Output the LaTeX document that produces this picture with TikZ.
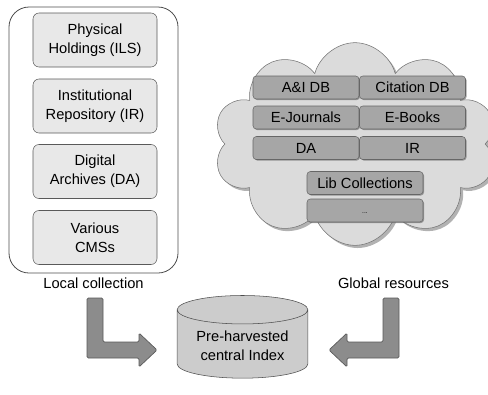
\documentclass[tikz,border=0pt]{standalone}
\usepackage{fontspec}
\setmainfont{Liberation Sans}
\usetikzlibrary{positioning,shapes.geometric,shapes.symbols,shadows}

\begin{document}
\begin{tikzpicture}
	[   x=0.75pt,y=-0.75pt,
	    lbox/.style={draw=black!65,fill=black!9,rounded corners=4.5pt,minimum width=93pt,minimum height=40.5pt,align=center},
	    gbox/.style={draw=black!60,fill=black!35,rounded corners=2.5pt,minimum width=#1,minimum height=17.25pt,inner sep=1pt,
	        drop shadow={shadow xshift=0.8pt,shadow yshift=-0.8pt,fill=black!60,opacity=0.6}},
	    blockarrow/.style={draw=black!65,fill=black!45,rounded corners=1pt,line width=0.5pt},
	    font=\fontsize{11}{14}\selectfont
	]
	\useasboundingbox (0,0) rectangle (488,394);
	
	% local side
	\node[draw=black!70,line width=0.6pt,rounded corners=15pt,minimum width=126.75pt,minimum height=199.5pt] (local) at (93.5,140) {};
	\foreach \n/\y/\t in {ils/40/{Physical\\Holdings (ILS)},ir/106/{Institutional\\Repository (IR)},da/171.5/{Digital\\Archives (DA)},cms/237.5/{Various\\CMSs}}
	{
		\node[lbox] (\n) at (95,\y) {\t};
	}
	\node[below=0pt of local] (loclabel) {Local collection};
	
	% global side
	\node[cloud,cloud puffs=10,cloud ignores aspect,draw=black!55,fill=black!14,minimum width=212pt,minimum height=152pt,
	      drop shadow={shadow xshift=2pt,shadow yshift=-2pt,fill=black!60}] (cloud) at (355,144) {};
	\node[gbox=79.5pt] (ai) at (306,87.5) {A\&I DB};
	\node[gbox=79.5pt] (cit) at (412.5,87.5) {Citation DB};
	\node[gbox=79.5pt] (ej) at (306,117.5) {E-Journals};
	\node[gbox=79.5pt] (eb) at (412.5,117.5) {E-Books};
	\node[gbox=79.5pt] (gda) at (306,148) {DA};
	\node[gbox=79.5pt] (gir) at (412.5,148) {IR};
	\node[gbox=87pt] (lib) at (365,183) {Lib Collections};
	\node[gbox=87pt] (more) at (365,210.5) {\raisebox{-4pt}{\tiny...}};
	\node (globlabel) at (393.5,283) {Global resources};
	
	% central index
	\node[cylinder,shape border rotate=90,aspect=0.3,inner sep=1pt,draw=black!70,fill=black!20,minimum width=98pt,minimum height=62pt,align=center] (index) at (242.5,345.5) {Pre-harvested\\central Index};
	
	\draw[blockarrow] (87,298) -- (103,298) -- (103,342) -- (139,342) -- (139,333) -- (157,350) -- (139,367) -- (139,358) -- (87,358) -- cycle;
	\draw[blockarrow] (399,298) -- (383,298) -- (383,342) -- (347,342) -- (347,333) -- (329,350) -- (347,367) -- (347,358) -- (399,358) -- cycle;
\end{tikzpicture}
\end{document}
